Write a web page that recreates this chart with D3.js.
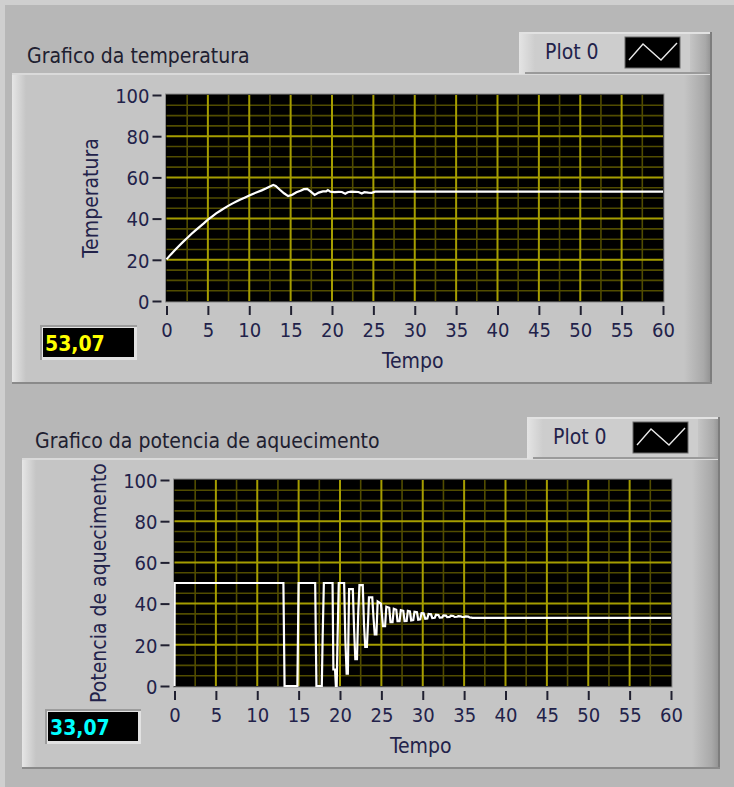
<!DOCTYPE html>
<html>
<head>
<meta charset="utf-8">
<script src="https://cdn.jsdelivr.net/npm/d3@7"></script>
<style>
  html, body { margin: 0; padding: 0; background: #b7b7b7; }
  svg { display: block; }
  text { font-family: "DejaVu Sans Condensed", "Liberation Sans", Arial, sans-serif; }
</style>
</head>
<body>
<svg id="painel" width="734" height="787"></svg>
<script>
// ---- data ----
const tempoTicks = [0, 5, 10, 15, 20, 25, 30, 35, 40, 45, 50, 55, 60];
const valorTicks = [0, 20, 40, 60, 80, 100];

// temperature waveform (time in s, value)
const temperaturaTempo = [0, 0.5, 1, 1.5, 2, 2.5, 3, 3.5, 4, 4.5, 5, 5.5, 6, 6.5, 7, 7.5, 8, 8.5, 9, 9.5,
  10, 10.5, 11, 11.5, 12, 12.5, 12.9, 13.2, 13.7, 14.2, 14.7, 15.2, 15.7, 16.2, 16.6, 17.0, 17.4, 17.9,
  18.4, 18.9, 19.3, 19.5, 19.8, 20.3, 20.8, 21.2, 21.6, 21.9, 22.3, 22.8, 23.2, 23.6, 23.9, 24.4, 24.8,
  25.2, 60];
const temperaturaValor = [20.2, 22.5, 24.6, 26.7, 28.7, 30.6, 32.5, 34.3, 36.0, 37.7, 39.5, 41.0, 42.5, 43.8,
  45.1, 46.3, 47.4, 48.4, 49.4, 50.3, 51.2, 52.1, 52.9, 53.7, 54.6, 55.6, 56.3, 55.8, 54.0, 52.3, 50.9,
  51.6, 52.8, 53.5, 54.3, 54.4, 53.2, 51.5, 52.6, 53.2, 53.2, 53.8, 53.1, 52.9, 53.0, 52.9, 52.1, 52.8,
  53.1, 53.0, 52.9, 52.2, 52.8, 52.6, 52.5, 53.07, 53.07];

// heating power waveform (time in s, value)
const potenciaTempo = [0, 0.02, 13.16, 13.3, 14.85, 15.0, 17.0, 17.15, 17.8, 17.9, 18.05, 19.1, 19.2, 19.4,
  19.5, 19.6, 19.7, 19.85, 20.5, 20.65, 20.8, 20.95, 21.1, 21.55, 21.7, 21.85, 22.05, 22.2, 22.35, 22.75,
  22.9, 23.05, 23.25, 23.4, 23.5, 23.9, 24.05, 24.2, 24.4, 24.55, 24.95, 25.1, 25.2, 25.45, 25.6, 25.95,
  26.1, 26.35, 26.5, 26.8, 26.95, 27.2, 27.35, 27.65, 27.8, 28.05, 28.2, 28.45, 28.6, 28.85, 29.0, 29.3,
  29.45, 29.7, 29.85, 30.1, 30.3, 30.55, 30.7, 31.0, 31.15, 31.45, 31.6, 31.9, 32.05, 32.35, 32.5, 32.8,
  32.95, 33.25, 33.4, 33.7, 33.85, 34.15, 34.3, 34.6, 34.75, 35.05, 35.2, 35.5, 35.65, 35.9, 36.0, 60];
const potenciaValor = [0, 50, 50, 0, 0, 50, 50, 0, 0, 23, 50, 50, 8, 8,
  0, 0, 22, 50, 50, 22, 6, 6, 47, 47, 28, 13, 13, 35, 49, 49,
  30, 19, 19, 32, 43, 43, 33, 25, 25, 41, 40, 33, 29, 29, 38.5, 38,
  31, 31, 37.5, 37, 31.5, 31.5, 36.8, 36.5, 31.5, 31.6, 36.5, 36.2, 31.8, 32, 36, 35.8,
  32.2, 32.4, 35.4, 35.3, 32.6, 32.8, 35, 34.8, 33, 33.1, 34.6, 34.5, 33.2, 33.3, 34.3, 34.2,
  33.4, 33.5, 34.1, 34.0, 33.5, 33.6, 33.9, 33.8, 33.5, 33.55, 33.8, 33.7, 33.3, 33.2, 33.07, 33.07];

const titulos = ["Grafico da temperatura", "Grafico da potencia de aquecimento"];
const rotulosY = ["Temperatura", "Potencia de aquecimento"];
const rotuloX = "Tempo";
const legendaNome = "Plot 0";
const indicadorValor = [53.07, 33.07];

// ---- drawing ----
const svg = d3.select("#painel");
const defs = svg.append("defs");

function gradient(id, x1, x2, y1, y2, stops) {
  const g = defs.append("linearGradient").attr("id", id)
    .attr("x1", x1).attr("x2", x2).attr("y1", y1).attr("y2", y2);
  stops.forEach(s => g.append("stop").attr("offset", s[0]).attr("stop-color", s[1]));
}
gradient("bevelL", "0", "1", "0", "0", [[0, "#e6e6e6"], [1, "#c5c5c5"]]);
gradient("bevelR", "0", "1", "0", "0", [[0, "#c5c5c5"], [0.7, "#a9a9a9"], [1, "#8f8f8f"]]);
gradient("legL", "0", "1", "0", "0", [[0, "#e4e4e4"], [1, "#cdcdcd"]]);

// light strip along the top and left edge of the window
svg.append("rect").attr("x", 0).attr("y", 0).attr("width", 734).attr("height", 5).attr("fill", "#cfcfcf");
svg.append("rect").attr("x", 0).attr("y", 0).attr("width", 5).attr("height", 787).attr("fill", "#cfcfcf");

const inkColor = "#22224a";
const fmt = d3.format(".2f");

function drawGraph(i, layout, tempo, valor, indicadorCor) {
  const L = layout;
  const g = svg.append("g");

  // frame of the graph
  g.append("rect").attr("x", L.px).attr("y", L.py).attr("width", L.pw).attr("height", L.ph).attr("fill", "#c5c5c5");
  g.append("rect").attr("x", L.px).attr("y", L.py).attr("width", 14).attr("height", L.ph).attr("fill", "url(#bevelL)");
  g.append("rect").attr("x", L.px + L.pw - 28).attr("y", L.py).attr("width", 28).attr("height", L.ph).attr("fill", "url(#bevelR)");
  g.append("rect").attr("x", L.px + L.pw - 2).attr("y", L.py).attr("width", 2).attr("height", L.ph).attr("fill", "#7d7d7d");
  g.append("rect").attr("x", L.px).attr("y", L.py + L.ph - 2).attr("width", L.pw).attr("height", 2).attr("fill", "#8a8a8a");
  g.append("rect").attr("x", L.px).attr("y", L.py).attr("width", L.pw - 2).attr("height", 2).attr("fill", "#dadada");

  // caption
  g.append("text").attr("x", L.tx).attr("y", L.ty).attr("font-size", 21).attr("fill", "#202030").text(titulos[i]);

  // legend
  const lx = L.lx, ly = L.ly, lw = L.lw, lh = L.lh;
  g.append("rect").attr("x", lx).attr("y", ly).attr("width", lw).attr("height", lh).attr("fill", "#cdcdcd");
  g.append("rect").attr("x", lx).attr("y", ly).attr("width", 16).attr("height", lh).attr("fill", "url(#legL)");
  g.append("rect").attr("x", lx + lw - 22).attr("y", ly).attr("width", 22).attr("height", lh).attr("fill", "url(#bevelR)");
  g.append("rect").attr("x", lx + lw - 2).attr("y", ly).attr("width", 2).attr("height", lh).attr("fill", "#7d7d7d");
  g.append("rect").attr("x", lx).attr("y", ly).attr("width", lw - 2).attr("height", 2).attr("fill", "#e2e2e2");
  g.append("rect").attr("x", lx + 6).attr("y", ly + lh - 2).attr("width", lw - 8).attr("height", 2).attr("fill", "#9a9a9a");
  g.append("text").attr("x", lx + 26).attr("y", ly + 27).attr("font-size", 21).attr("fill", inkColor).text(legendaNome);
  const ix = lx + 106, iy = ly + 5;
  g.append("rect").attr("x", ix).attr("y", iy).attr("width", 55).attr("height", 31).attr("fill", "#000")
    .attr("stroke", "#6a6a6a").attr("stroke-width", 1);
  g.append("polyline")
    .attr("points", [[ix + 4, iy + 23], [ix + 18, iy + 7], [ix + 36, iy + 23], [ix + 52, iy + 6]].map(p => p.join(",")).join(" "))
    .attr("fill", "none").attr("stroke", "#e8e8e8").attr("stroke-width", 1.4);

  // scales
  const x = d3.scaleLinear().domain([0, 60]).range([L.x0, L.x1]);
  const y = d3.scaleLinear().domain([0, 100]).range([L.y0, L.y1]);

  // plot area
  g.append("rect").attr("x", L.x0 - 1).attr("y", L.y1 - 1).attr("width", L.x1 - L.x0 + 2).attr("height", L.y0 - L.y1 + 2)
    .attr("fill", "#000").attr("stroke", "#8c8c8c").attr("stroke-width", 1);

  const minorX = d3.range(2.5, 60, 5);
  const majorX = tempoTicks.filter(t => t > 0 && t < 60);
  const minorY = d3.range(5, 100, 5).filter(v => v % 20 !== 0);
  const majorY = valorTicks.filter(v => v > 0 && v < 100);

  const grid = g.append("g");
  grid.selectAll(".mx").data(minorX).join("line")
    .attr("x1", d => x(d)).attr("x2", d => x(d)).attr("y1", L.y1).attr("y2", L.y0)
    .attr("stroke", "#514c00").attr("stroke-width", 1.6);
  grid.selectAll(".my").data(minorY).join("line")
    .attr("y1", d => y(d)).attr("y2", d => y(d)).attr("x1", L.x0).attr("x2", L.x1)
    .attr("stroke", "#514c00").attr("stroke-width", 1.6);
  grid.selectAll(".Mx").data(majorX).join("line")
    .attr("x1", d => x(d)).attr("x2", d => x(d)).attr("y1", L.y1).attr("y2", L.y0)
    .attr("stroke", "#a59d00").attr("stroke-width", 2);
  grid.selectAll(".My").data(majorY).join("line")
    .attr("y1", d => y(d)).attr("y2", d => y(d)).attr("x1", L.x0).attr("x2", L.x1)
    .attr("stroke", "#a59d00").attr("stroke-width", 2);

  // trace
  const pts = tempo.map((t, k) => [t, valor[k]]);
  g.append("path").datum(pts)
    .attr("d", d3.line().x(d => x(d[0])).y(d => y(d[1])))
    .attr("fill", "none").attr("stroke", "#ffffff").attr("stroke-width", 2.2)
    .attr("stroke-linejoin", "miter");

  // axes
  const ax = g.append("g").attr("transform", `translate(0,${L.y0 + 5})`)
    .call(d3.axisBottom(x).tickValues(tempoTicks).tickSize(9).tickPadding(8).tickFormat(d3.format("d")));
  const ay = g.append("g").attr("transform", `translate(${L.x0 - 5},0)`)
    .call(d3.axisLeft(y).tickValues(valorTicks).tickSize(9).tickPadding(3).tickFormat(d3.format("d")));
  [ax, ay].forEach(a => {
    a.select(".domain").remove();
    a.selectAll(".tick line").attr("stroke", "#202030").attr("stroke-width", 2);
    a.selectAll(".tick text").attr("font-size", 20).attr("fill", inkColor)
      .attr("font-family", "\"DejaVu Sans Condensed\", \"Liberation Sans\", Arial, sans-serif");
  });
  ay.selectAll(".tick text").attr("dy", "0.36em");

  // axis names
  g.append("text").attr("x", (L.x0 + L.x1) / 2 - 2).attr("y", L.y0 + 67).attr("text-anchor", "middle")
    .attr("font-size", 21).attr("fill", inkColor).text(rotuloX);
  g.append("text").attr("transform", `translate(${L.yl},${(L.y0 + L.y1) / 2}) rotate(-90)`)
    .attr("text-anchor", "middle").attr("font-size", 21).attr("fill", inkColor).text(rotulosY[i]);

  // digital indicator
  const D = L.ind;
  g.append("rect").attr("x", D.x).attr("y", D.y).attr("width", D.w).attr("height", D.h).attr("fill", "#9c9c9c");
  g.append("rect").attr("x", D.x + 2).attr("y", D.y + 2).attr("width", D.w - 2).attr("height", D.h - 2).attr("fill", "#e2e2e2");
  g.append("rect").attr("x", D.x + 3).attr("y", D.y + 3).attr("width", D.w - 6).attr("height", D.h - 6).attr("fill", "#000");
  g.append("text").attr("x", D.x + 5).attr("y", D.y + D.h - 9).attr("font-size", 21).attr("font-weight", "bold")
    .attr("fill", indicadorCor).text(fmt(indicadorValor[i]).replace(".", ","));
}

drawGraph(0, {
  px: 12, py: 73, pw: 700, ph: 311,
  tx: 27, ty: 63,
  lx: 519, ly: 32, lw: 193, lh: 42,
  x0: 166.5, x1: 663, y0: 301, y1: 95, yl: 98,
  ind: { x: 40, y: 325, w: 97, h: 35 }
}, temperaturaTempo, temperaturaValor, "#ffff00");

drawGraph(1, {
  px: 22, py: 458, pw: 698, ph: 311,
  tx: 35, ty: 448,
  lx: 527, ly: 417, lw: 193, lh: 42,
  x0: 174.5, x1: 671, y0: 686, y1: 480, yl: 106,
  ind: { x: 45, y: 709, w: 96, h: 35 }
}, potenciaTempo, potenciaValor, "#00ffff");
</script>
</body>
</html>
